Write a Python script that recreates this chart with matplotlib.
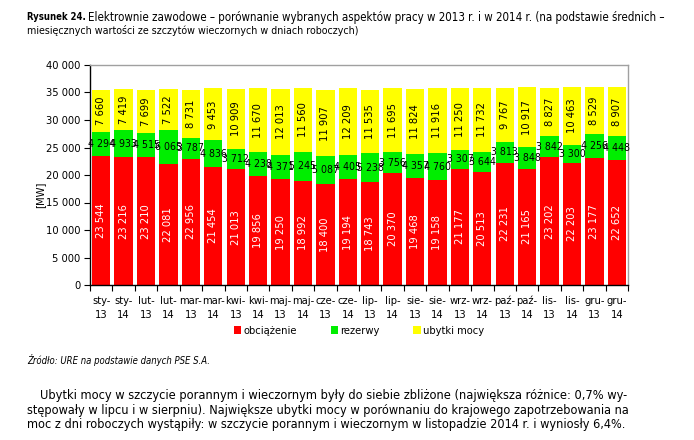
import matplotlib
matplotlib.use("Agg")
import matplotlib.pyplot as plt
from matplotlib import font_manager
from matplotlib.transforms import blended_transform_factory
import numpy as np

cond = [f for f in font_manager.fontManager.ttflist if f.name == "DejaVu Sans" and "ondensed" in f.fname]
plt.rcParams['font.family'] = ['DejaVu Sans']
if cond:
    plt.rcParams['font.stretch'] = 'condensed'

months = ["sty", "lut", "mar", "kwi", "maj", "cze", "lip", "sie", "wrz", "paź", "lis", "gru"]
years = ["13", "14"]
cat_month = [m for m in months for y in years]
cat_year = [y for m in months for y in years]

obciazenie = [23544, 23216, 23210, 22081, 22956, 21454, 21013, 19856, 19250, 18992, 18400, 19194,
              18743, 20370, 19468, 19158, 21177, 20513, 22231, 21165, 23202, 22203, 23177, 22652]
rezerwy = [4294, 4933, 4515, 6065, 3787, 4836, 3712, 4238, 4371, 5245, 5087, 4405,
           5238, 3756, 4357, 4760, 3307, 3644, 3813, 3848, 3842, 3300, 4256, 4448]
ubytki = [7660, 7419, 7699, 7522, 8731, 9453, 10909, 11670, 12013, 11560, 11907, 12209,
          11535, 11695, 11824, 11916, 11250, 11732, 9767, 10917, 8827, 10463, 8529, 8907]

series = [("obciążenie", obciazenie, "#FF0000", "white"),
          ("rezerwy", rezerwy, "#00EE00", "black"),
          ("ubytki mocy", ubytki, "#FFFF00", "black")]

def fmt(v):
    return f"{v:,}".replace(",", " ")

fig = plt.figure(figsize=(6.94, 4.40), dpi=100)
ax = fig.add_axes([90/694, 1-285/440, (628-90)/694, (285-65)/440])

FS = 8
n = len(cat_month)
x = np.arange(n)
bottom = np.zeros(n)
handles = []
for name, vals, col, tcol in series:
    vals = np.array(vals, dtype=float)
    bars = ax.bar(x, vals, bottom=bottom, width=0.82, color=col, label=name, linewidth=0)
    handles.append(bars)
    for xi, b, v in zip(x, bottom, vals):
        if name == "rezerwy":
            ax.text(xi, b + v/2, fmt(int(v)), ha="center", va="center", color=tcol, fontsize=7.6)
        else:
            ax.text(xi, b + v/2, fmt(int(v)), ha="center", va="center", color=tcol,
                    fontsize=FS, rotation=90)
    bottom += vals

ax.set_xlim(-0.5, n-0.5)
ax.set_ylim(0, 40000)
ax.set_yticks(np.arange(0, 40001, 5000))
ax.set_yticklabels([fmt(v) for v in range(0, 40001, 5000)], fontsize=FS)
ax.set_xticks(np.arange(-0.5, n, 1))
ax.set_xticklabels([])
ax.tick_params(axis="x", length=4, direction="out")
ax.tick_params(axis="y", length=4, direction="out", pad=3)
tr = blended_transform_factory(ax.transData, fig.transFigure)
for xi, m, y in zip(x, cat_month, cat_year):
    ax.text(xi, 1-304/440, m + "-", transform=tr, ha="center", va="baseline", fontsize=FS)
    ax.text(xi, 1-318/440, y, transform=tr, ha="center", va="baseline", fontsize=FS)

for s in ("top", "right"):
    ax.spines[s].set_color("#A0A0A0")
    ax.spines[s].set_linewidth(1.0)
for s in ("left", "bottom"):
    ax.spines[s].set_color("black")
    ax.spines[s].set_linewidth(1.0)
ax.set_ylabel("[MW]", fontsize=FS)
ax.yaxis.set_label_coords(-0.084, 0.41)

ax.legend(handles=handles, loc="center", bbox_to_anchor=(0.5, (285-331)/220), ncol=3,
          frameon=False, fontsize=FS, handlelength=0.7, handleheight=0.7,
          handletextpad=0.2, columnspacing=3.0)

fitted = []
t1 = fig.text(27/694, 1-17/440, "Rysunek 24.", fontsize=8, fontweight="bold", va="center")
fitted.append((t1, 27, 86))
t2 = fig.text(88/694, 1-17/440,
              "Elektrownie zawodowe – porównanie wybranych aspektów pracy w 2013 r. i w 2014 r. (na podstawie średnich –",
              fontsize=8, va="center")
fitted.append((t2, 88, 662))
t3 = fig.text(27/694, 1-31/440, "miesięcznych wartości ze szczytów wieczornych w dniach roboczych)",
              fontsize=8, va="center")
fitted.append((t3, 27, 357))
t4 = fig.text(27/694, 1-360/440, "Źródło: URE na podstawie danych PSE S.A.", fontsize=7.5,
              style="italic", va="center")
fitted.append((t4, 27, 210))
para = [(40, 395, 627, "Ubytki mocy w szczycie porannym i wieczornym były do siebie zbliżone (największa różnice: 0,7% wy-"),
        (27, 410, 627, "stępowały w lipcu i w sierpniu). Największe ubytki mocy w porównaniu do krajowego zapotrzebowania na"),
        (27, 424, 622, "moc z dni roboczych wystąpiły: w szczycie porannym i wieczornym w listopadzie 2014 r. i wyniosły 6,4%.")]
for px, py, pe, t in para:
    tt = fig.text(px/694, 1-py/440, t, fontsize=10, va="center")
    fitted.append((tt, px, pe))

fig.canvas.draw()
r = fig.canvas.get_renderer()
for t, x0, x1 in fitted:
    w = t.get_window_extent(r).width
    t.set_fontsize(t.get_fontsize() * (x1 - x0) / w)

fig.savefig("out.png", dpi=100)
